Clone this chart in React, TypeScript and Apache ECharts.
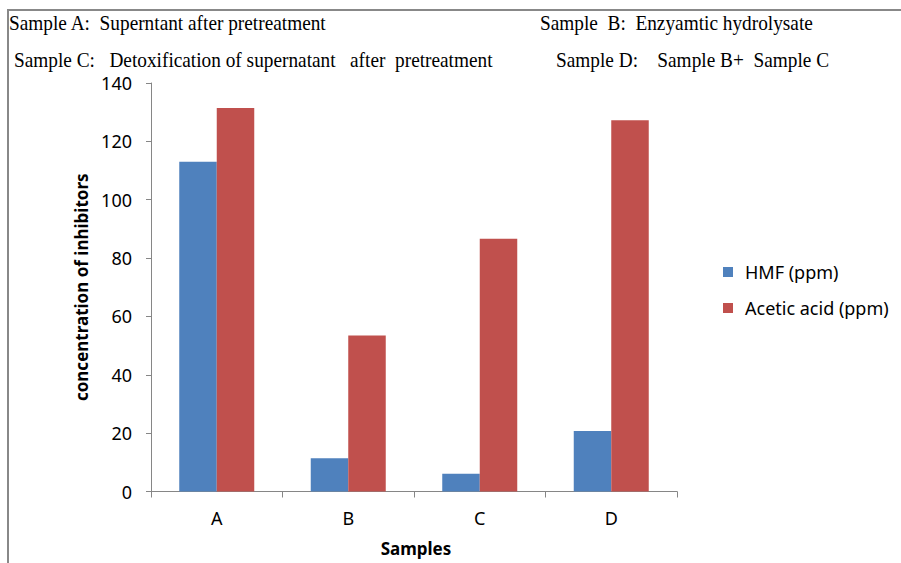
import React, { useEffect, useRef } from "react";
import * as echarts from "echarts";

const categories = ["A", "B", "C", "D"];
const hmfValues = [113.0, 11.4, 6.1, 20.7];
const aceticValues = [131.4, 53.5, 86.6, 127.2];
const seriesNames = ["HMF (ppm)", "Acetic acid (ppm)"];
const noteLine1Left = "Sample A:  Superntant after pretreatment";
const noteLine1Right = "Sample  B:  Enzyamtic hydrolysate";
const noteLine2Left = "Sample C:   Detoxification of supernatant   after  pretreatment";
const noteLine2Right = "Sample D:    Sample B+  Sample C";
const yAxisName = "concentration of inhibitors";
const xAxisName = "Samples";

export default function App() {
  const ref = useRef<HTMLDivElement>(null);
  useEffect(() => {
    document.body.style.margin = "0";
    const chart = echarts.init(ref.current!, null, { renderer: "svg" });
    const serif = "'Liberation Serif', 'Times New Roman', serif";
    const sans = "'Noto Sans', 'Open Sans', sans-serif";
    const noteStyle = (text: string) => ({
      text,
      font: `21px ${serif}`,
      fill: "#000",
      verticalAlign: "top",
    });
    chart.setOption({
      animation: false,
      backgroundColor: "#ffffff",
      grid: { left: 151, right: 224, top: 83, bottom: 71.5, containLabel: false, outerBoundsMode: "none" },
      legend: {
        orient: "vertical",
        left: 723,
        top: 263,
        padding: 0,
        itemWidth: 10,
        itemHeight: 10,
        itemGap: 18,
        icon: "rect",
        textStyle: { fontFamily: sans, fontSize: 18, color: "#000", padding: [0, 0, 0, 7] },
        data: seriesNames,
      },
      xAxis: {
        type: "category",
        data: categories,
        name: xAxisName,
        nameLocation: "middle",
        nameGap: 48,
        nameTextStyle: { fontFamily: sans, fontSize: 17, fontWeight: "bold", color: "#000", padding: [0, 0, 0, 4] },
        axisLine: { lineStyle: { color: "#868686", width: 1 } },
        axisTick: { show: true, length: 6, lineStyle: { color: "#868686" } },
        axisLabel: { fontFamily: sans, fontSize: 18, color: "#000", margin: 17 },
        splitLine: { show: false },
      },
      yAxis: {
        type: "value",
        min: 0,
        max: 140,
        interval: 20,
        name: yAxisName,
        nameLocation: "middle",
        nameGap: 57,
        nameRotate: 90,
        nameTextStyle: { fontFamily: sans, fontSize: 17, fontWeight: "bold", color: "#000" },
        axisLine: { show: true, lineStyle: { color: "#868686", width: 1 } },
        axisTick: { show: true, length: 5, lineStyle: { color: "#868686" } },
        axisLabel: { fontFamily: sans, fontSize: 18, color: "#000", margin: 19 },
        splitLine: { show: false },
      },
      series: [
        {
          name: seriesNames[0],
          type: "bar",
          data: hmfValues,
          barWidth: 37.5,
          barGap: "0%",
          itemStyle: { color: "#4F81BD" },
        },
        {
          name: seriesNames[1],
          type: "bar",
          data: aceticValues,
          barWidth: 37.5,
          barGap: "0%",
          itemStyle: { color: "#C0504D" },
        },
      ],
      graphic: [
        { type: "line", shape: { x1: 8, y1: 10, x2: 901, y2: 10 }, style: { stroke: "#888", lineWidth: 2 } },
        { type: "line", shape: { x1: 8, y1: 9, x2: 8, y2: 563 }, style: { stroke: "#888", lineWidth: 2 } },
        { type: "text", x: 9, y: 12, scaleX: 0.92, style: noteStyle(noteLine1Left) },
        { type: "text", x: 540, y: 12, scaleX: 0.92, style: noteStyle(noteLine1Right) },
        { type: "text", x: 14, y: 49.5, scaleX: 0.92, style: noteStyle(noteLine2Left) },
        { type: "text", x: 556, y: 49.5, scaleX: 0.92, style: noteStyle(noteLine2Right) },
      ],
    });
    return () => chart.dispose();
  }, []);
  return <div ref={ref} style={{ position: "absolute", left: 0, top: 0, width: 901, height: 563 }} />;
}
